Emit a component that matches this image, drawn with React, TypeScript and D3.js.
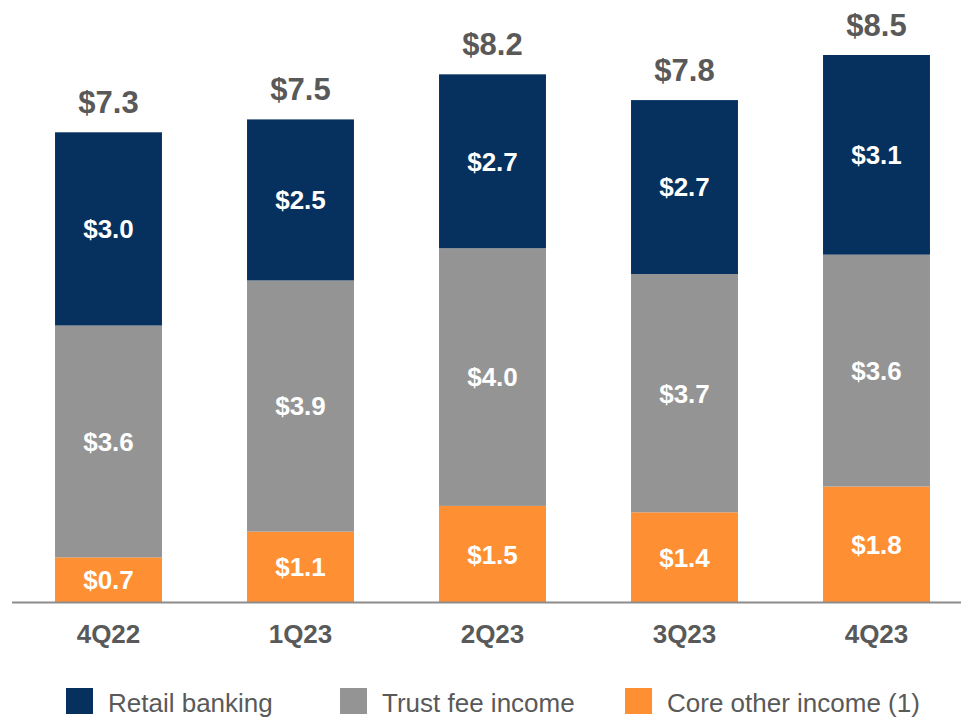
import React from "react";
import * as d3 from "d3";

const quarters = ["4Q22", "1Q23", "2Q23", "3Q23", "4Q23"];
const retailBanking = [3.0, 2.5, 2.7, 2.7, 3.1];
const trustFeeIncome = [3.6, 3.9, 4.0, 3.7, 3.6];
const coreOtherIncome = [0.7, 1.1, 1.5, 1.4, 1.8];
const totals = [7.3, 7.5, 8.2, 7.8, 8.5];

const seriesNames = ["Core other income (1)", "Trust fee income", "Retail banking"];
const seriesColors = ["#FF8F33", "#949494", "#06315F"];
const legendOrder = [2, 1, 0];
const legendX = [66, 340, 625];

const width = 961;
const height = 717;
const baseY = 602.5;
const font = "'Liberation Sans', Arial, sans-serif";

export default function App() {
  const rows = quarters.map((q, i) => ({
    q,
    core: coreOtherIncome[i],
    trust: trustFeeIncome[i],
    retail: retailBanking[i],
  }));
  const keys = ["core", "trust", "retail"];
  const stacked = d3.stack<any>().keys(keys)(rows);

  const x = d3
    .scaleBand()
    .domain(quarters)
    .range([12.5, 972.5])
    .paddingInner(0.443)
    .paddingOuter(0.2215);
  const y = d3.scaleLinear().domain([0, 8.5]).range([baseY, 55]);

  const fmt = (v: number) => "$" + d3.format(".1f")(v);

  return (
    <svg
      width={width}
      height={height}
      style={{ position: "absolute", left: 0, top: 0, background: "#fff" }}
      fontFamily={font}
    >
      {stacked.map((layer, li) => (
        <g key={layer.key} fill={seriesColors[li]}>
          {layer.map((d, i) => {
            const y0 = y(d[0]);
            const y1 = y(d[1]);
            return (
              <g key={quarters[i]}>
                <rect
                  x={x(quarters[i])}
                  y={y1}
                  width={x.bandwidth()}
                  height={y0 - y1}
                />
                <text
                  x={(x(quarters[i]) as number) + x.bandwidth() / 2}
                  y={(y0 + y1) / 2}
                  dy="0.36em"
                  textAnchor="middle"
                  fill="#fff"
                  fontWeight="bold"
                  fontSize={26}
                >
                  {fmt(d[1] - d[0])}
                </text>
              </g>
            );
          })}
        </g>
      ))}

      {totals.map((t, i) => (
        <text
          key={quarters[i]}
          x={(x(quarters[i]) as number) + x.bandwidth() / 2}
          y={y(t) - 19}
          textAnchor="middle"
          fill="#595959"
          fontWeight="bold"
          fontSize={31}
        >
          {fmt(t)}
        </text>
      ))}

      <line x1={12} x2={width} y1={baseY} y2={baseY} stroke="#8c8c8c" strokeWidth={2} />

      {quarters.map((q) => (
        <text
          key={q}
          x={(x(q) as number) + x.bandwidth() / 2}
          y={643}
          textAnchor="middle"
          fill="#595959"
          fontWeight="bold"
          fontSize={26}
        >
          {q}
        </text>
      ))}

      {legendOrder.map((si, i) => (
        <g key={seriesNames[si]} transform={`translate(${legendX[i]},688)`}>
          <rect width={27} height={26} fill={seriesColors[si]} />
          <text x={42} y={24} fill="#595959" fontSize={26}>
            {seriesNames[si]}
          </text>
        </g>
      ))}
    </svg>
  );
}
